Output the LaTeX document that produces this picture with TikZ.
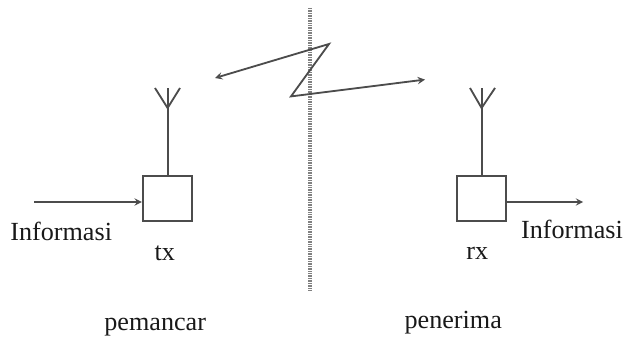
\documentclass[tikz,border=0pt]{standalone}
\usepackage{fontspec}
\setmainfont{Liberation Serif}
\begin{document}
\begin{tikzpicture}[x=1cm,y=1cm,>=stealth,
  wire/.style={draw=black!70, line width=1.3pt},
  unit/.style={draw=black!70, line width=1.3pt, minimum width=1.24cm, minimum height=1.11cm, inner sep=0pt},
  lbl/.style={anchor=base, inner sep=0pt, font=\fontsize{18.6pt}{20pt}\selectfont, text=black!90}]
\useasboundingbox (0,0) rectangle (15.65,8.4);

\node[unit] (tx) at (4.19,3.44) {};
\node[unit] (rx) at (12.04,3.44) {};

\coordinate (txfork) at (4.19,5.7);
\coordinate (txtip) at (4.19,6.2);
\coordinate (txleft) at (3.875,6.2);
\coordinate (txright) at (4.5,6.2);
\coordinate (rxfork) at (12.04,5.7);
\coordinate (rxtip) at (12.04,6.2);
\coordinate (rxleft) at (11.75,6.2);
\coordinate (rxright) at (12.375,6.2);

\draw[wire] (tx.north) -- (txtip);
\draw[wire] (txleft) -- (txfork) -- (txright);
\draw[wire] (rx.north) -- (rxtip);
\draw[wire] (rxleft) -- (rxfork) -- (rxright);

\coordinate (infrom) at (0.85,3.35);
\coordinate (outto) at (14.58,3.35);
\draw[wire,->] (infrom) -- (tx.west |- infrom);
\draw[wire,->] (rx.east |- outto) -- (outto);

\coordinate (top) at (7.75,8.2);
\coordinate (bottom) at (7.75,1.15);
\draw[draw=black!50, line width=2.2pt, dash pattern=on 0.7pt off 0.5pt] (top) -- (bottom);

\coordinate (z1) at (5.375,6.45);
\coordinate (z2) at (8.225,7.3);
\coordinate (z3) at (7.275,5.99);
\coordinate (z4) at (10.625,6.41);
\draw[wire,<->] (z1) -- (z2) -- (z3) -- (z4);

\node[lbl] (infoa) at (1.53,2.38) {Informasi};
\node[lbl] (txl) at (4.12,1.88) {tx};
\node[lbl] (pem) at (3.88,0.15) {pemancar};
\node[lbl] (infob) at (14.3,2.43) {Informasi};
\node[lbl] (rxl) at (11.93,1.9) {rx};
\node[lbl] (pen) at (11.33,0.2) {penerima};
\end{tikzpicture}
\end{document}
